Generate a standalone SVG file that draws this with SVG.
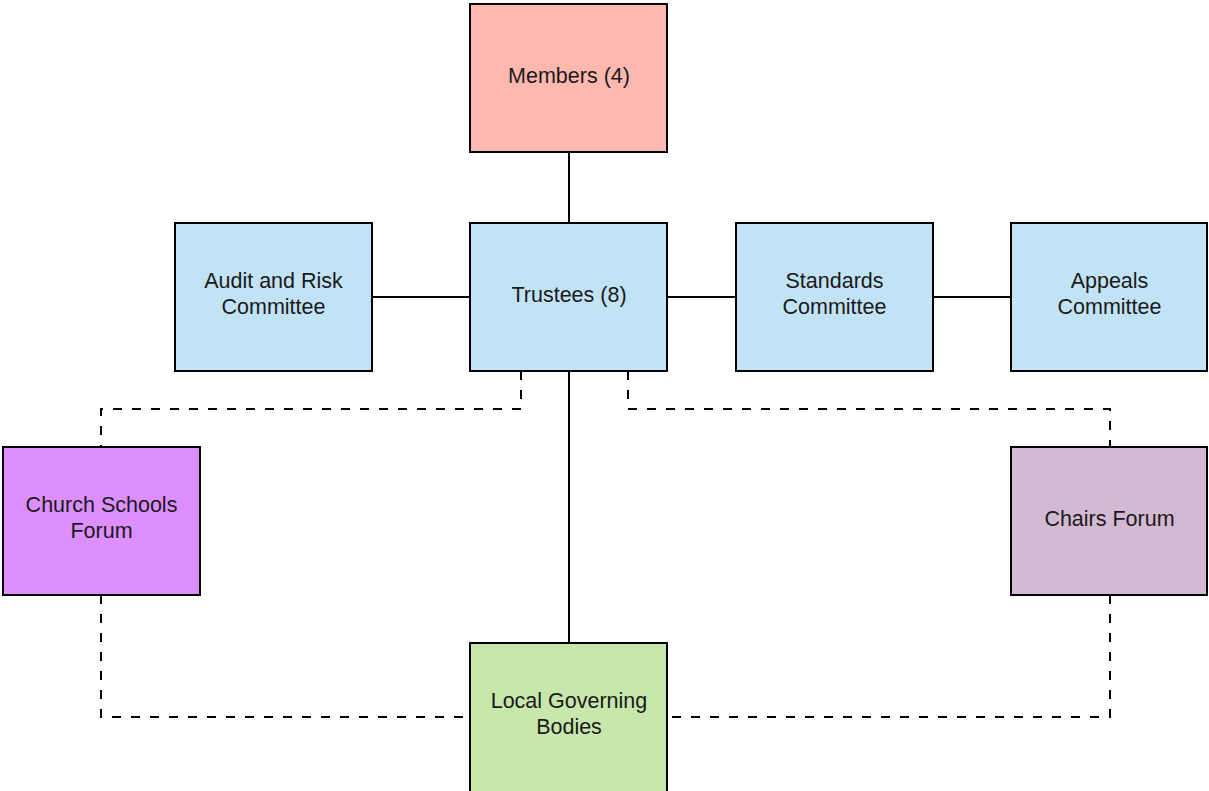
<svg xmlns="http://www.w3.org/2000/svg" width="1209" height="791" viewBox="0 0 1209 791">
<style>
.box{stroke:#000;stroke-width:2}
.t{font-family:"Liberation Sans",Arial,sans-serif;font-size:21.5px;fill:#1a1a1a;text-anchor:middle}
.c{fill:none;stroke:#000;stroke-width:2}
.d{fill:none;stroke:#000;stroke-width:2;stroke-dasharray:9 10}
</style>
<rect width="1209" height="791" fill="#fff"/>
<g id="connectors">
<path class="c" d="M569 152V223"/>
<path class="c" d="M372 297H470"/>
<path class="c" d="M667 297H736"/>
<path class="c" d="M933 297H1011"/>
<path class="c" d="M569 371V643"/>
<path class="d" d="M521 371V409H101V447"/>
<path class="d" d="M628 371V409H1110V447"/>
<path class="d" d="M101 595V717H470"/>
<path class="d" d="M1110 595V717H667"/>
</g>
<g id="members">
<rect class="box" x="470" y="4" width="197" height="148" fill="#FFB8B0"/>
<text class="t" x="569" y="83">Members (4)</text>
</g>
<g id="trustees">
<rect class="box" x="470" y="223" width="197" height="148" fill="#C2E3F5"/>
<text class="t" x="569" y="302">Trustees (8)</text>
</g>
<g id="audit">
<rect class="box" x="175" y="223" width="197" height="148" fill="#C2E3F5"/>
<text class="t" x="273.5" y="288">Audit and Risk</text>
<text class="t" x="273.5" y="314">Committee</text>
</g>
<g id="standards">
<rect class="box" x="736" y="223" width="197" height="148" fill="#C2E3F5"/>
<text class="t" x="834.5" y="288">Standards</text>
<text class="t" x="834.5" y="314">Committee</text>
</g>
<g id="appeals">
<rect class="box" x="1011" y="223" width="196" height="148" fill="#C2E3F5"/>
<text class="t" x="1109.5" y="288">Appeals</text>
<text class="t" x="1109.5" y="314">Committee</text>
</g>
<g id="church">
<rect class="box" x="3" y="447" width="197" height="148" fill="#DD8FFF"/>
<text class="t" x="101.5" y="512">Church Schools</text>
<text class="t" x="101.5" y="538">Forum</text>
</g>
<g id="chairs">
<rect class="box" x="1011" y="447" width="196" height="148" fill="#D3B9D3"/>
<text class="t" x="1109.5" y="526">Chairs Forum</text>
</g>
<g id="local">
<rect class="box" x="470" y="643" width="197" height="150" fill="#C7E7AC"/>
<text class="t" x="569" y="708">Local Governing</text>
<text class="t" x="569" y="734">Bodies</text>
</g>
</svg>
